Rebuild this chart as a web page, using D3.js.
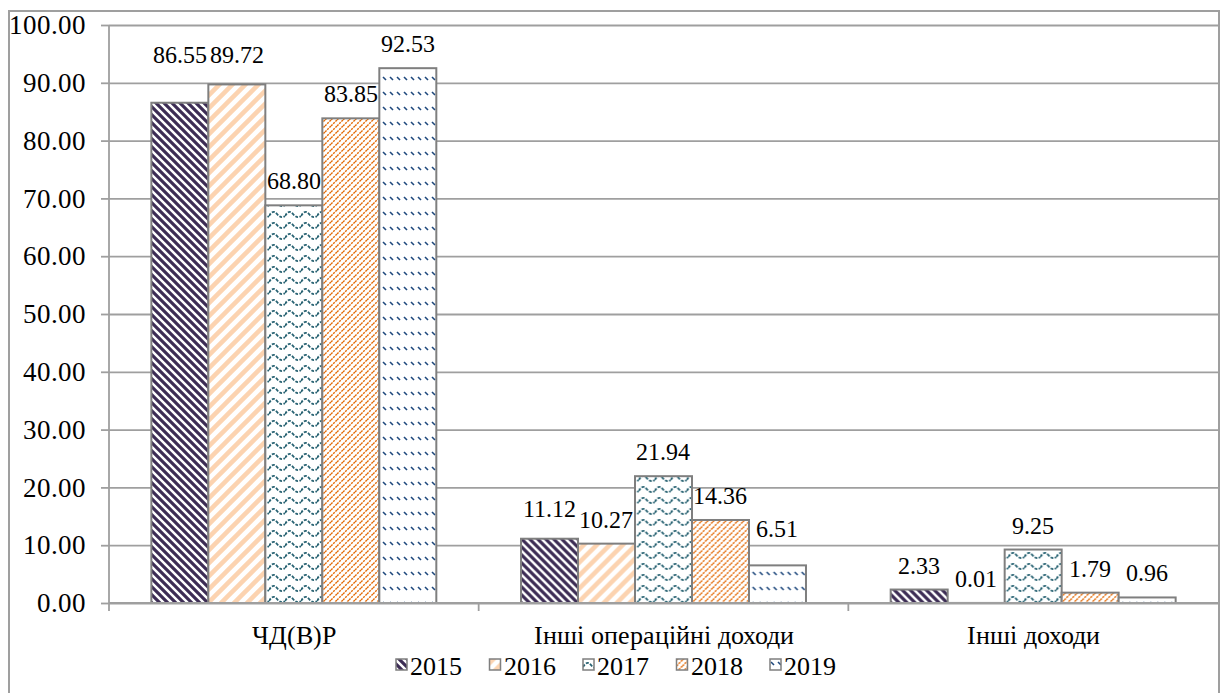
<!DOCTYPE html>
<html>
<head>
<meta charset="utf-8">
<script src="https://cdn.jsdelivr.net/npm/d3@7"></script>
<style>
  @font-face {
    font-family: "ChartSerif";
    src: local("Liberation Serif"), local("LiberationSerif"), local("LiberationSerif-Regular"),
         local("Liberation Serif Regular"), local("Tinos"), local("Times New Roman");
  }
  body { margin: 0; background: #fff; }
  svg { display: block; }
  svg text { font-family: "ChartSerif", "Liberation Serif", "DejaVu Serif", serif !important; fill: #000; }
</style>
</head>
<body>
<svg id="chart" width="1223" height="693"></svg>
<script>
// Categories and yearly series
const categories = ["ЧД(В)Р", "Інші операційні доходи", "Інші доходи"];
const years = ["2015", "2016", "2017", "2018", "2019"];
const values2015 = [86.55, 11.12, 2.33];
const values2016 = [89.72, 10.27, 0.01];
const values2017 = [68.80, 21.94, 9.25];
const values2018 = [83.85, 14.36, 1.79];
const values2019 = [92.53, 6.51, 0.96];
const yTicks = [0, 10, 20, 30, 40, 50, 60, 70, 80, 90, 100];

const seriesByYear = {
  "2015": values2015, "2016": values2016, "2017": values2017,
  "2018": values2018, "2019": values2019
};

const FONT = '"ChartSerif", "Liberation Serif", "DejaVu Serif", serif';

const svg = d3.select("#chart").attr("font-family", FONT);
const plot = { left: 109, right: 1218, top: 25, bottom: 603 };
const gridColor = "#9f9f9f";

// Outer chart frame
svg.append("rect")
  .attr("x", 9).attr("y", 11).attr("width", 1210).attr("height", 700)
  .attr("fill", "#fff").attr("stroke", gridColor).attr("stroke-width", 2);

// Fill patterns for each year
const defs = svg.append("defs");
function pattern(id, w, h, draw) {
  const p = defs.append("pattern").attr("id", id)
    .attr("patternUnits", "userSpaceOnUse").attr("width", w).attr("height", h);
  p.append("rect").attr("width", w).attr("height", h).attr("fill", "#fff");
  draw(p);
}
// 2015: wide dark downward diagonal
pattern("p2015", 8, 8, p => p.append("path")
  .attr("d", "M-2,6 L2,10 M0,0 L8,8 M6,-2 L10,2")
  .attr("stroke", "#3d2d55").attr("stroke-width", 3.2).attr("fill", "none"));
// 2016: wide peach upward diagonal
pattern("p2016", 13, 13, p => p.append("path")
  .attr("d", "M-3,3 L3,-3 M0,13 L13,0 M10,16 L16,10")
  .attr("stroke", "#fcd3b0").attr("stroke-width", 4.5).attr("fill", "none"));
// 2017: teal waves
pattern("p2017", 16, 11, p => p.append("path")
  .attr("d", "M0,7 Q4,0 8,5 T16,7")
  .attr("stroke", "#276272").attr("stroke-width", 1.9).attr("fill", "none")
  .attr("stroke-dasharray", "3,1.5"));
// 2018: narrow orange upward diagonal
pattern("p2018", 6, 6, p => p.append("path")
  .attr("d", "M-1.5,1.5 L1.5,-1.5 M0,6 L6,0 M4.5,7.5 L7.5,4.5")
  .attr("stroke", "#e46c0a").attr("stroke-width", 1.4).attr("fill", "none")
  .attr("stroke-dasharray", "2.2,0.9"));
// 2019: small navy dashes
pattern("p2019", 7, 15, p => p.append("path")
  .attr("d", "M1,2 L4,5")
  .attr("stroke", "#1f497d").attr("stroke-width", 1.6).attr("fill", "none"));

// Scales
const y = d3.scaleLinear().domain([0, 100]).range([plot.bottom, plot.top]);
const x0 = d3.scaleBand().domain(categories).range([plot.left, plot.right]).padding(0);
const x1 = d3.scaleBand().domain(years).range([0, x0.bandwidth()])
  .paddingInner(0).paddingOuter(0.743);

// Horizontal gridlines
svg.append("g")
  .attr("transform", `translate(${plot.left},0)`)
  .call(d3.axisLeft(y).tickValues(yTicks).tickSize(-(plot.right - plot.left)).tickFormat(""))
  .call(g => g.select(".domain").remove())
  .call(g => g.selectAll(".tick line").attr("stroke", gridColor).attr("stroke-width", 1.8));

// Y axis with labels
svg.append("g")
  .attr("transform", `translate(${plot.left},0)`)
  .call(d3.axisLeft(y).tickValues(yTicks).tickSize(8).tickPadding(15)
    .tickFormat(d3.format(".2f")))
  .attr("font-family", FONT).attr("font-size", 27)
  .call(g => g.select(".domain").attr("stroke", gridColor).attr("stroke-width", 1.8)
    .attr("d", `M0,${plot.top}V${plot.bottom + 8}`))
  .call(g => g.selectAll(".tick line").attr("stroke", gridColor).attr("stroke-width", 1.8))
  .call(g => g.selectAll(".tick text").attr("fill", "#000"));

// Bars
const groups = svg.append("g").selectAll("g")
  .data(categories).join("g")
  .attr("transform", d => `translate(${x0(d)},0)`);

groups.selectAll("rect")
  .data((c, i) => years.map(yr => ({ year: yr, value: seriesByYear[yr][i], cat: c })))
  .join("rect")
  .attr("x", d => x1(d.year))
  .attr("y", d => y(d.value))
  .attr("width", x1.bandwidth())
  .attr("height", d => y(0) - y(d.value))
  .attr("fill", d => `url(#p${d.year})`)
  .attr("stroke", "#7f7f7f").attr("stroke-width", 2);

// Value labels above bars; a few are lifted to keep them clear of neighbours
const lift = { "ЧД(В)Р|2015": 24, "ЧД(В)Р|2016": 5, "Інші операційні доходи|2015": 6,
  "Інші операційні доходи|2019": 12 };
groups.selectAll("text.val")
  .data((c, i) => years.map(yr => ({ year: yr, value: seriesByYear[yr][i], cat: c })))
  .join("text")
  .attr("class", "val")
  .attr("x", d => x1(d.year) + x1.bandwidth() / 2)
  .attr("y", d => y(d.value) - 16 - (lift[d.cat + "|" + d.year] || 0))
  .attr("text-anchor", "middle")
  .attr("font-size", 23.5)
  .text(d => d.value.toFixed(2));

// X axis baseline
svg.append("line")
  .attr("x1", plot.left).attr("x2", plot.right)
  .attr("y1", y(0)).attr("y2", y(0))
  .attr("stroke", gridColor).attr("stroke-width", 2);

// Tick marks at category boundaries
const bounds = categories.map(c => x0(c)).concat([plot.right]);
svg.append("g").selectAll("line").data(bounds.slice(1, 3)).join("line")
  .attr("x1", d => d).attr("x2", d => d)
  .attr("y1", y(0)).attr("y2", y(0) + 8)
  .attr("stroke", gridColor).attr("stroke-width", 1.8);

// Category labels
svg.append("g")
  .attr("transform", `translate(0,${y(0)})`)
  .call(d3.axisBottom(x0).tickSize(0).tickPadding(23))
  .attr("font-family", FONT).attr("font-size", 26)
  .call(g => g.select(".domain").remove())
  .call(g => g.selectAll(".tick text").attr("fill", "#000"));

// Legend
const legendX = d3.scalePoint().domain(years).range([396, 770]);
const legend = svg.append("g").selectAll("g").data(years).join("g")
  .attr("transform", d => `translate(${legendX(d)},0)`);
legend.append("rect")
  .attr("x", 0).attr("y", 659).attr("width", 11).attr("height", 11)
  .attr("fill", d => `url(#p${d})`)
  .attr("stroke", "#7f7f7f").attr("stroke-width", 1.5);
legend.append("text")
  .attr("x", 14).attr("y", 675)
  .attr("font-size", 25.5)
  .text(d => d);
</script>
</body>
</html>
